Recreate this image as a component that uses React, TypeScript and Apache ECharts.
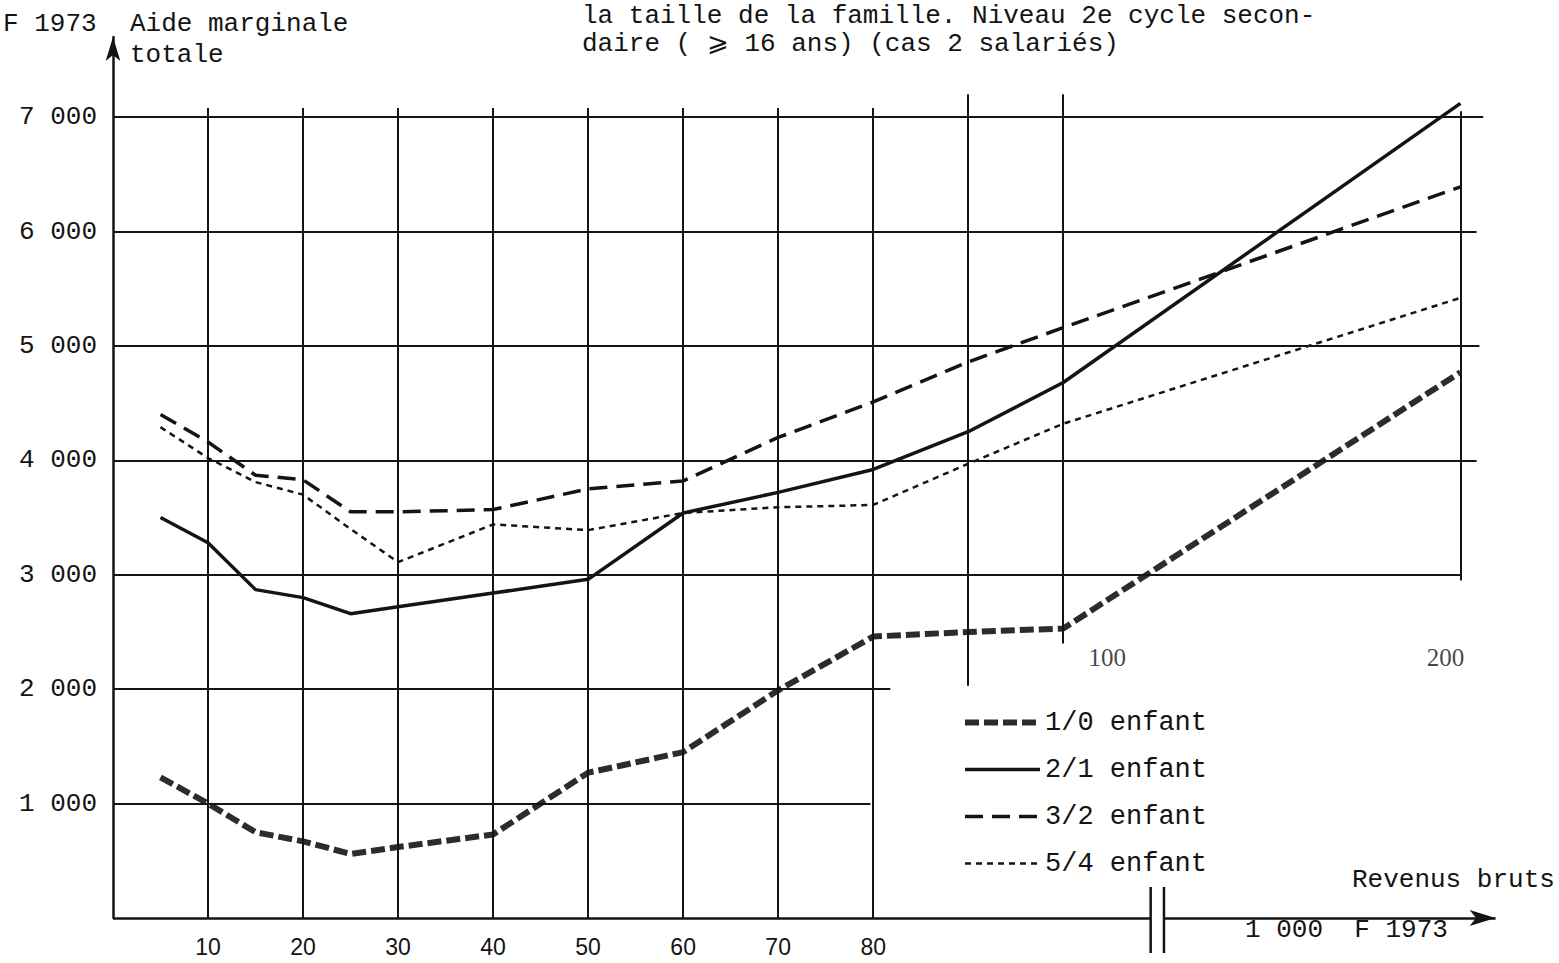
import { useEffect, useRef } from 'react';
import * as echarts from 'echarts';

// ---------- data ----------
const revenus = [5, 10, 15, 20, 25, 30, 40, 50, 60, 70, 80, 90, 100, 200]; // 1 000 F 1973
const aide10 = [1230, 1000, 750, 670, 560, 620, 730, 1270, 1450, 1990, 2460, 2500, 2530, 4770];
const aide21 = [3500, 3280, 2870, 2800, 2660, 2720, 2840, 2960, 3540, 3720, 3920, 4250, 4680, 7120];
const aide32 = [4400, 4160, 3870, 3830, 3550, 3550, 3570, 3750, 3820, 4200, 4510, 4860, 5160, 6390];
const aide54 = [4290, 4020, 3810, 3700, 3400, 3110, 3440, 3390, 3540, 3590, 3610, 3970, 4320, 5420];
const seriesNames = ['1/0 enfant', '2/1 enfant', '3/2 enfant', '5/4 enfant'];
const xTickLabels = [10, 20, 30, 40, 50, 60, 70, 80];
const upperTickLabels = [100, 200];
const yTicks = [1000, 2000, 3000, 4000, 5000, 6000, 7000];
const verticalRules = [10, 20, 30, 40, 50, 60, 70, 80, 90, 100, 200];

// ---------- scale (axis compressed beyond 100) ----------
const BREAK_AT = 100;
const BREAK_RATIO = 0.418;
const tx = (x: number) => (x <= BREAK_AT ? x : BREAK_AT + (x - BREAK_AT) * BREAK_RATIO);
const X_MAX = 146.7;
const Y_MAX = 7700;

// ---------- layout / style ----------
const INK = '#141414';
const MONO = "'Liberation Mono', 'DejaVu Sans Mono', monospace";
const SERIF = "'Liberation Serif', 'DejaVu Serif', serif";
const SANS = "'Liberation Sans', 'DejaVu Sans', sans-serif";

const hRuleEnds: Record<number, number> = {
  1000: 79.7, 2000: 81.8, 3000: tx(200), 4000: 143.5, 5000: 143.8, 6000: 143.5, 7000: 144.2,
};
const vRuleSpans: Record<number, [number, number]> = {
  90: [2030, 7200], 100: [2400, 7200], 200: [2950, 7050],
};
const V_DEFAULT: [number, number] = [0, 7080];
const AXIS_GAP: [number, number] = [109.2, 110.6];
const AXIS_END = 145.5;

const lineStyles: any[] = [
  { color: '#2c2c2c', width: 6, type: [14, 5] },
  { color: INK, width: 3.5, type: 'solid' },
  { color: INK, width: 3.5, type: [18, 9] },
  { color: INK, width: 2.5, type: [6, 5] },
];
const allValues = [aide10, aide21, aide32, aide54];

const fmtThousands = (v: number) =>
  v >= 1000 ? `${Math.floor(v / 1000)} ${String(v % 1000).padStart(3, '0')}` : String(v);

export default function App() {
  const ref = useRef<HTMLDivElement>(null);

  useEffect(() => {
    if (!ref.current) return;
    const chart = echarts.init(ref.current, null, { renderer: 'svg' });

    const ruleLines: any[] = [];
    yTicks.forEach((v) => {
      ruleLines.push([{ coord: [0, v] }, { coord: [hRuleEnds[v], v] }]);
    });
    verticalRules.forEach((x) => {
      const [a, b] = vRuleSpans[x] || V_DEFAULT;
      ruleLines.push([{ coord: [tx(x), a] }, { coord: [tx(x), b] }]);
    });
    ruleLines.push([
      { coord: [0, 0], lineStyle: { width: 2.5 } },
      { coord: [AXIS_GAP[0], 0] },
    ]);
    ruleLines.push([
      { coord: [AXIS_GAP[1], 0], lineStyle: { width: 2.5 } },
      { coord: [AXIS_END, 0], symbol: 'arrow', symbolSize: [12, 26] },
    ]);

    const option: any = {
      animation: false,
      backgroundColor: '#ffffff',
      grid: { left: 113, right: 52, top: 37, bottom: 45, containLabel: false },
      xAxis: {
        type: 'value',
        min: 0,
        max: X_MAX,
        axisLine: { show: false },
        axisTick: { show: false },
        splitLine: { show: false },
        axisLabel: {
          customValues: xTickLabels.map(tx),
          formatter: (v: number) => String(Math.round(v)),
          margin: 17,
          fontFamily: SANS,
          fontSize: 23,
          color: INK,
        },
      },
      yAxis: {
        type: 'value',
        min: 0,
        max: Y_MAX,
        axisLine: {
          show: true,
          onZero: false,
          symbol: ['none', 'arrow'],
          symbolSize: [11, 24],
          lineStyle: { color: INK, width: 2.5 },
        },
        axisTick: { show: false },
        splitLine: { show: false },
        axisLabel: {
          customValues: yTicks,
          formatter: fmtThousands,
          margin: 16,
          fontFamily: MONO,
          fontSize: 26,
          color: INK,
        },
      },
      legend: {
        data: seriesNames.map((name, k) => ({ name, lineStyle: { ...lineStyles[k] } })),
        orient: 'vertical',
        left: 957,
        top: 704,
        itemWidth: 75,
        itemHeight: 14,
        itemGap: 20,
        itemStyle: { opacity: 0 },
        lineStyle: { width: 'inherit' },
        textStyle: { fontFamily: MONO, fontSize: 27, color: INK },
        selectedMode: false,
      },
      series: [
        {
          type: 'line',
          name: 'cadre',
          data: [],
          silent: true,
          z: 1,
          markLine: {
            silent: true,
            symbol: 'none',
            label: { show: false },
            animation: false,
            emphasis: { disabled: true },
            lineStyle: { color: INK, width: 2, type: 'solid' },
            data: ruleLines,
          },
        },
        ...seriesNames.map((name, k) => ({
          type: 'line',
          name,
          z: 3 + k,
          symbol: 'none',
          showSymbol: false,
          silent: true,
          lineStyle: lineStyles[k],
          itemStyle: { color: lineStyles[k].color },
          data: revenus.map((r, i) => [tx(r), allValues[k][i]]),
        })),
        {
          type: 'scatter',
          name: 'échelle haute',
          symbol: 'circle',
          symbolSize: 1,
          silent: true,
          itemStyle: { color: 'transparent' },
          data: upperTickLabels.map((v, i) => ({
            value: [tx(v), 2281],
            label: { offset: [i === 0 ? 44 : -15, 0] },
          })),
          label: {
            show: true,
            position: 'inside',
            formatter: (p: any) => String(upperTickLabels[p.dataIndex]),
            fontFamily: SERIF,
            fontSize: 25,
            color: INK,
          },
        },
      ],
    };

    chart.setOption(option);

    const pL = chart.convertToPixel({ gridIndex: 0 }, [AXIS_GAP[0], 0]) as number[];
    const pR = chart.convertToPixel({ gridIndex: 0 }, [AXIS_GAP[1], 0]) as number[];
    const txt = (text: string, x: number, y: number, size = 26, family = MONO) => ({
      type: 'text',
      x,
      y,
      silent: true,
      style: { text, font: `${size}px ${family}`, fill: INK, verticalAlign: 'middle', align: 'left' },
    });
    const breakMark = (p: number[]) => ({
      type: 'line',
      silent: true,
      shape: { x1: p[0], y1: p[1] - 31, x2: p[0], y2: p[1] + 35 },
      style: { stroke: INK, lineWidth: 2.5 },
    });
    chart.setOption({
      graphic: [
        txt('la taille de la famille. Niveau 2e cycle secon-', 582, 16),
        txt('daire ( \u2A7E 16 ans) (cas 2 salariés)', 582, 44),
        txt('F 1973', 3, 24),
        txt('Aide marginale', 130, 24),
        txt('totale', 130, 55),
        txt('Revenus bruts', 1352, 880),
        txt('1 000  F 1973', 1245, 930),
        breakMark(pL),
        breakMark(pR),
      ],
    });

    return () => chart.dispose();
  }, []);

  return (
    <div
      ref={ref}
      style={{ position: 'absolute', left: 0, top: 0, width: 1559, height: 963, background: '#fff' }}
    />
  );
}
